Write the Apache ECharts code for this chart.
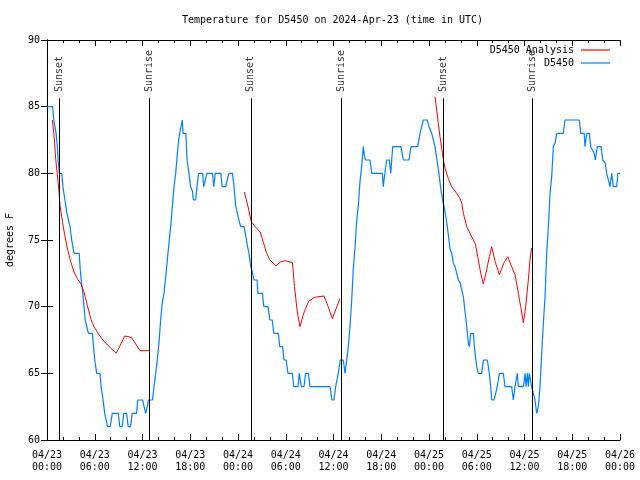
<!DOCTYPE html>
<html>
<head>
<meta charset="utf-8">
<script src="https://cdn.jsdelivr.net/npm/echarts@6/dist/echarts.min.js"></script>
<style>html,body{margin:0;padding:0;background:#fff}#c{width:640px;height:480px}</style>
</head>
<body>
<div id="c"></div>
<script>
// Hours since 2024-04-23 00:00 UTC; null marks a gap in the series
const analysisHours = [0.67,0.88,1.09,1.3,1.51,1.63,1.93,2.22,2.55,2.97,3.39,3.81,4.23,4.65,5.07,5.49,5.91,6.53,7.16,8.0,8.71,9.76,10.6,11.15,11.69,12.82,
  12.9,
  24.8,25.3,25.65,26.14,26.8,27.2,27.6,28.02,28.75,29.36,29.9,30.85,31.1,31.45,31.79,32.25,32.88,33.6,34.8,35.33,35.86,36.8,
  36.9,
  48.76,48.97,49.17,49.38,49.6,49.8,50.01,50.43,50.85,51.48,51.9,52.11,52.32,52.74,53.15,53.57,53.87,54.2,54.5,54.83,55.25,55.58,55.88,56.3,56.84,57.43,57.89,58.39,58.81,59.23,59.52,59.86,60.15,60.48,60.69,60.9];
const analysisTemps = [84,82.9,81.1,79.9,78.6,77.6,76.4,75.4,74.4,73.4,72.6,72.1,71.75,71.1,70.1,69.1,68.5,67.9,67.4,66.9,66.5,67.8,67.7,67.2,66.7,66.7,
  null,
  78.6,77.4,76.4,76,75.6,74.8,74,73.5,73.05,73.35,73.45,73.3,71.5,69.6,68.5,69.5,70.4,70.7,70.8,70,69.1,70.6,
  null,
  85.75,84.75,83.75,82.75,81.9,81.0,80.4,79.6,79,78.5,78.1,77.75,77.0,76,75.5,75,74.6,73.5,72.5,71.7,72.75,73.75,74.5,73.4,72.4,73.3,73.75,73,72.4,71,70,68.8,70,72,73.5,74.4];

const stationHours = [0,0.7,0.85,1.0,1.15,1.3,1.4,1.55,1.85,2.0,2.25,2.5,2.7,2.9,3.1,3.4,4.05,4.15,4.3,4.5,4.65,4.8,5.0,5.2,5.7,5.85,6.0,6.25,6.65,6.8,7.05,7.25,7.6,7.95,8.2,8.95,9.15,9.45,9.65,10.0,10.2,10.5,10.7,11.25,11.4,12.0,12.2,12.4,12.6,12.75,13.25,
  13.45,13.66,13.86,14.07,14.28,14.49,14.7,14.91,15.12,15.33,15.54,15.75,15.96,16.17,16.38,16.59,16.8,17.0,17.1,17.45,17.6,17.84,18.05,18.26,18.4,18.68,18.85,19.05,19.55,19.7,19.95,20.1,20.8,20.95,21.15,21.85,22.0,22.45,22.65,22.85,23.3,23.5,23.7,23.92,24.15,24.34,24.76,
  24.95,25.17,25.38,25.6,25.8,26.0,26.4,26.5,27.06,27.25,27.77,28.0,28.3,28.5,29.07,29.25,29.6,29.78,30.05,30.28,30.83,31.0,31.54,31.7,31.96,32.29,32.5,32.84,33.05,35.56,35.8,36.06,36.27,36.45,36.6,36.85,37.23,37.45,37.66,37.86,
  38.07,38.28,38.49,38.7,38.91,39.12,39.33,39.54,39.75,39.85,40.0,40.59,40.8,42.14,42.26,42.35,42.68,43.02,43.19,43.44,44.48,44.77,45.49,45.74,46.58,46.87,47.1,47.29,47.79,48.0,48.34,48.55,
  48.76,49.0,49.25,49.45,49.7,49.9,50.1,50.3,50.5,50.65,50.85,51.06,51.27,51.48,51.69,51.9,52.11,52.32,52.53,52.74,52.95,53.07,53.24,53.57,53.78,54.0,54.2,54.62,54.83,55.33,55.58,55.75,55.88,56.17,56.38,56.63,56.84,57.34,57.55,58.39,58.6,58.81,59.1,59.23,59.86,60.07,60.19,60.36,60.48,60.61,60.75,60.9,61.11,61.32,61.53,61.74,61.95,
  62.16,62.37,62.58,62.79,63.0,63.21,63.42,63.62,63.85,64.05,64.88,65.09,66.89,67.06,67.5,67.6,67.82,68.15,68.32,68.57,68.75,68.9,69.15,69.62,69.83,70.12,70.33,70.53,70.74,70.96,71.16,71.58,71.75,72.0];
const stationTemps = [85,85,84,84,83,82,81,80,80,79,78,77,77,76,75,74,74,73,72,71,70,69,69,68,68,67,66,65,65,64,63,62,61,61,62,62,61,61,62,62,61,61,62,62,63,63,62.5,62,62.5,63,63,
  64,65,66,67.3,69,70.3,71,72.2,73.5,74.8,76,77.5,79,80,81.5,82.7,83.4,84,83,83,81,80,79,78.7,78,78,79,80,80,79,79,80,80,79,80,80,79,79,79.5,80,80,79,77.6,77,76.4,76,76,
  75.4,74.6,74,73,72.6,72,72,71,71,70,70,69,69,68,68,67,67,66,66,65,65,64,64,65,64,64,65,65,64,64,63,63,64,64,65,66,66,65,66,67,
  68.5,70.4,72.9,74.4,76.4,77.6,79.4,80.5,82,81.5,81,81,80,80,79,79.5,81,81,80,82,82,81,81,82,82,83,83,84,84,83.5,83,82.5,
  82,81,80,79,78,77.5,76.8,76,75,74.3,74,73.25,73,73,72,71.8,71.75,70.75,69.6,68.5,67.25,67,68,68,66.5,65.5,65,65,66,66,65,64,63,63,63.5,64.2,65,65,64,64,63,64,65,64,64,65,64,65,64,65,64.5,64,64,63,62,62.5,64,
  66.5,68.75,70.75,74,76,78.5,79.75,82,82.3,83,83,84,84,83,83,82,83,83,82,82,81.5,81,82,82,81,80.8,80,80,79,80,79,79,80,80];

const eventNames = ['Sunset','Sunrise','Sunset','Sunrise','Sunset','Sunrise'];
const eventHours = [1.53, 12.9, 25.62, 36.96, 49.78, 60.97];

const xTickDates = ['04/23','04/23','04/23','04/23','04/24','04/24','04/24','04/24','04/25','04/25','04/25','04/25','04/26'];
const xTickTimes = ['00:00','06:00','12:00','18:00','00:00','06:00','12:00','18:00','00:00','06:00','12:00','18:00','00:00'];

const FONT = 'DejaVu Sans Mono';
const pairs = (hs, vs) => hs.map((h, i) => [h, vs[i] === null ? '-' : vs[i]]);

const chart = echarts.init(document.getElementById('c'), null, {renderer: 'canvas'});
const tickCommon = {
  min: 0, max: 72, interval: 6, type: 'value',
  axisLine: {show: true, lineStyle: {color: '#000', width: 1}},
  axisTick: {show: true, inside: true, length: 6, lineStyle: {color: '#000'}},
  minorTick: {show: true, splitNumber: 3, length: 3, lineStyle: {color: '#000'}},
  splitLine: {show: false}
};
const yCommon = {
  min: 60, max: 90, interval: 5, type: 'value',
  axisLine: {show: true, lineStyle: {color: '#000', width: 1}},
  axisTick: {show: true, inside: true, length: 6, lineStyle: {color: '#000'}},
  splitLine: {show: false}
};
chart.setOption({
  animation: false,
  backgroundColor: '#fff',
  textStyle: {fontFamily: FONT},
  title: {
    text: 'Temperature for D5450 on 2024-Apr-23 (time in UTC)',
    left: 182, top: 15, padding: 0,
    textStyle: {fontFamily: FONT, fontSize: 10, fontWeight: 'normal', color: '#000'}
  },
  legend: {
    data: ['D5450 Analysis', 'D5450'],
    orient: 'vertical', align: 'right', right: 30, top: 44, padding: 0,
    itemWidth: 29, itemHeight: 1.2, itemGap: 1, icon: 'rect',
    textStyle: {fontFamily: FONT, fontSize: 10, color: '#000', lineHeight: 12, padding: [0, 2, 0, 0]}
  },
  grid: {left: 47, right: 20, top: 40, bottom: 40, containLabel: false, outerBoundsMode: 'none'},
  xAxis: [
    Object.assign({}, tickCommon, {
      position: 'bottom',
      axisLabel: {
        show: true, margin: 9, color: '#000', fontFamily: FONT, fontSize: 10, lineHeight: 12,
        formatter: v => { const i = Math.round(v / 6); return xTickDates[i] + '\n' + xTickTimes[i]; }
      }
    }),
    Object.assign({}, tickCommon, {position: 'top', axisLabel: {show: false}})
  ],
  yAxis: [
    Object.assign({}, yCommon, {
      position: 'left',
      name: 'degrees F', nameLocation: 'middle', nameGap: 32, nameRotate: 90,
      nameTextStyle: {fontFamily: FONT, fontSize: 10, color: '#000'},
      axisLabel: {show: true, margin: 7, color: '#000', fontFamily: FONT, fontSize: 10}
    }),
    Object.assign({}, yCommon, {position: 'right', axisLabel: {show: false}})
  ],
  series: [
    {
      name: 'D5450 Analysis', type: 'line', data: pairs(analysisHours, analysisTemps),
      showSymbol: false, connectNulls: false, color: '#ff0000',
      lineStyle: {color: '#ff0000', width: 1}, z: 3
    },
    {
      name: 'D5450', type: 'line', data: pairs(stationHours, stationTemps),
      showSymbol: false, connectNulls: false, color: '#0080ff',
      lineStyle: {color: '#0080ff', width: 1.2}, z: 2
    },
    {
      name: 'events', type: 'scatter', symbolSize: 0, z: 4,
      data: eventHours.map((h, i) => ({name: eventNames[i], value: [h, 86.1]})),
      label: {
        show: true, position: 'inside', rotate: 90, align: 'left', verticalAlign: 'middle',
        offset: [0, 0],
        formatter: p => p.name, color: '#000', fontFamily: FONT, fontSize: 10
      },
      markLine: {
        silent: true, symbol: ['none', 'none'], animation: false,
        label: {show: false},
        lineStyle: {color: '#000', width: 1, type: 'solid'},
        data: eventHours.map(h => [{coord: [h, 60]}, {coord: [h, 85.63]}])
      }
    }
  ]
});
</script>
</body>
</html>
